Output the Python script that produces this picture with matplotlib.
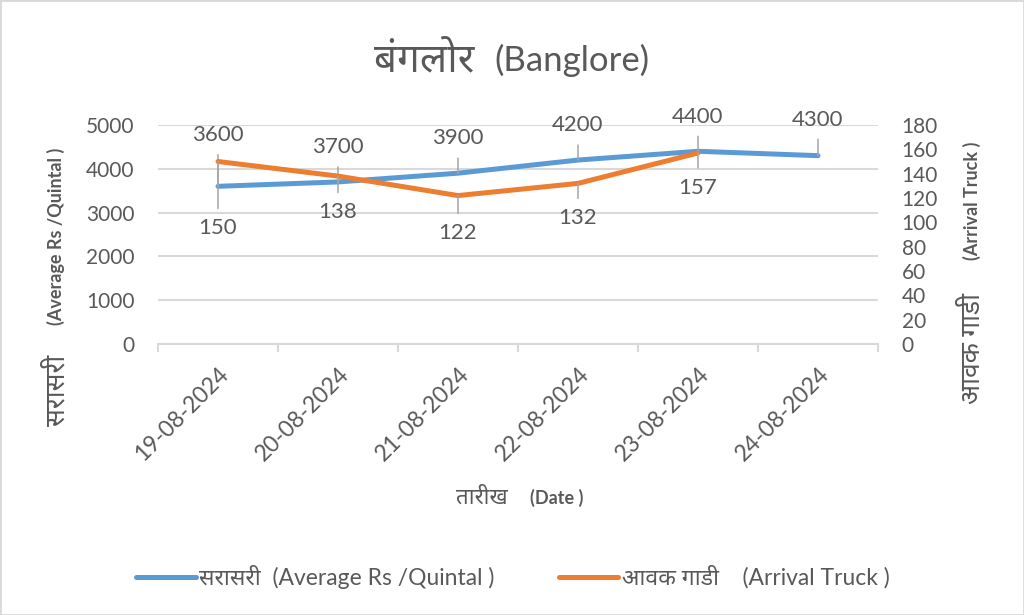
import matplotlib
matplotlib.use("Agg")
import matplotlib.pyplot as plt
from matplotlib import font_manager
from matplotlib.ft2font import FT2Font
from matplotlib.patches import Rectangle

# Data
dates = ["19-08-2024", "20-08-2024", "21-08-2024", "22-08-2024", "23-08-2024", "24-08-2024"]
avg_price = [3600, 3700, 3900, 4200, 4400, 4300]
trucks = [150, 138, 122, 132, 157]

# label offsets (points) for the data labels
price_offsets = [37, 25, 25, 25, 25, 26]
truck_offsets = [-48, -26, -27, -25, -25]

# pick a Devanagari font, preferring the ones closest to Nirmala / Mangal
def find_devanagari():
    names = {f.name for f in font_manager.fontManager.ttflist}
    for want in ["Noto Sans Devanagari", "Hind", "Mukta", "Poppins", "Anek Devanagari", "FreeSans"]:
        if want in names:
            return want
    for f in font_manager.fontManager.ttflist:
        if "Unifont" in f.name:
            continue
        try:
            if 0x0915 in FT2Font(f.fname).get_charmap():
                return f.name
        except Exception:
            pass
    return None

families = ["Lato"]
deva = find_devanagari()
if deva:
    families.append(deva)
families.append("DejaVu Sans")
plt.rcParams["font.family"] = families

text_col = "#595959"
grid_col = "#D9D9D9"
blue = "#5B9BD5"
orange = "#ED7D31"

fig = plt.figure(figsize=(10.24, 6.15), dpi=100)
fig.patches.append(Rectangle((0, 0), 1, 1, transform=fig.transFigure, fill=False,
                             edgecolor=grid_col, lw=2))

ax = fig.add_axes([158 / 1024, 1 - 344 / 615, 720 / 1024, 219 / 615])
ax2 = ax.twinx()

x = list(range(len(dates)))
ax.plot(x, avg_price, color=blue, lw=3.6, solid_capstyle="round", zorder=3,
        label="सरासरी  (Average Rs /Quintal )")
ax2.plot(x[:len(trucks)], trucks, color=orange, lw=3.6, solid_capstyle="round", zorder=3,
         label="आवक गाडी    (Arrival Truck )")

ax.set_ylim(0, 5000)
ax.set_yticks(range(0, 5001, 1000))
ax2.set_ylim(0, 180)
ax2.set_yticks(range(0, 181, 20))
ax.set_xlim(-0.5, len(dates) - 0.5)

ax.grid(axis="y", color=grid_col, lw=1.5)
ax.set_axisbelow(True)
for a in (ax, ax2):
    for s in ("left", "right", "top"):
        a.spines[s].set_visible(False)
    a.spines["bottom"].set_color(grid_col)
    a.spines["bottom"].set_linewidth(1.5)
    a.tick_params(axis="y", length=0, labelsize=15, labelcolor=text_col, pad=17)

ax2.spines["bottom"].set_visible(False)

# category ticks between categories, labels at centres
ax.set_xticks([i - 0.5 for i in range(len(dates) + 1)])
ax.set_xticklabels([])
ax.tick_params(axis="x", length=6, width=1.5, color=grid_col)
for i, d in enumerate(dates):
    ax.annotate(d, (i, 0), xycoords=("data", "axes fraction"), xytext=(0, -14),
                textcoords="offset points", rotation=45, rotation_mode="anchor",
                ha="right", va="top", fontsize=16.5, color=text_col)

# data labels with leader lines
for i, v in enumerate(avg_price):
    ax.annotate(str(v), (i, v), xytext=(0, price_offsets[i]), textcoords="offset points",
                ha="center", va="center", fontsize=16, color=text_col,
                arrowprops=dict(arrowstyle="-", color="#A6A6A6", lw=1.1, shrinkA=5, shrinkB=0))
for i, v in enumerate(trucks):
    ax2.annotate(str(v), (i, v), xytext=(0, truck_offsets[i]), textcoords="offset points",
                 ha="center", va="center", fontsize=16, color=text_col,
                 arrowprops=dict(arrowstyle="-", color="#A6A6A6", lw=1.1, shrinkA=5, shrinkB=0))

# title and axis titles: the Devanagari part is drawn larger, like the original
fig.text(474 / 1024, 1 - 60 / 615, "बंगलोर", ha="right", va="center",
         fontsize=29, color=text_col)
fig.text(494 / 1024, 1 - 60 / 615, "(Banglore)", ha="left", va="center",
         fontsize=25, color=text_col)

fig.text(56 / 1024, 1 - 390 / 615, "सरासरी", rotation=90, ha="center", va="center",
         fontsize=19, fontweight="bold", color=text_col)
fig.text(56 / 1024, 1 - 236 / 615, "(Average Rs /Quintal )", rotation=90,
         ha="center", va="center", fontsize=13, fontweight="bold", color=text_col)

fig.text(972 / 1024, 1 - 349 / 615, "आवक गाडी", rotation=90, ha="center", va="center",
         fontsize=19, fontweight="bold", color=text_col)
fig.text(972 / 1024, 1 - 201 / 615, "(Arrival Truck )", rotation=90,
         ha="center", va="center", fontsize=13, fontweight="bold", color=text_col)

fig.text(508 / 1024, 1 - 497 / 615, "तारीख", ha="right", va="center",
         fontsize=16, fontweight="bold", color=text_col)
fig.text(530 / 1024, 1 - 498 / 615, "(Date )", ha="left", va="center",
         fontsize=13, fontweight="bold", color=text_col)

h1, l1 = ax.get_legend_handles_labels()
h2, l2 = ax2.get_legend_handles_labels()
leg = fig.legend(h1 + h2, l1 + l2, loc="center", bbox_to_anchor=(513 / 1024, 1 - 577 / 615),
                 ncol=2, frameon=False, fontsize=16.5, handlelength=2.6, columnspacing=2.8,
                 handletextpad=0.15)
for t in leg.get_texts():
    t.set_color(text_col)

fig.savefig("out.png", dpi=100)
